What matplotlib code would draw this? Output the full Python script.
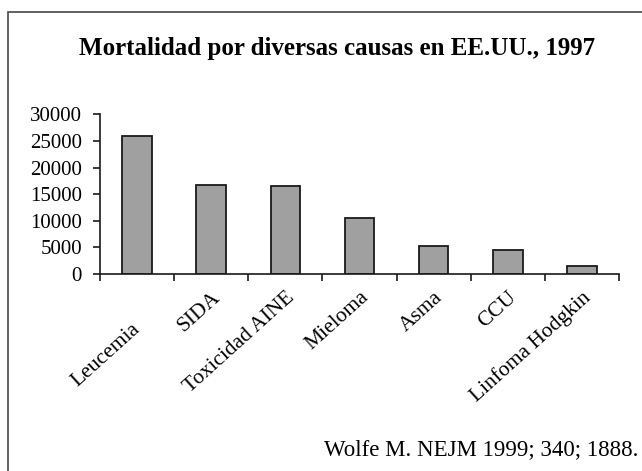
import numpy as np
import matplotlib.pyplot as plt
import matplotlib.transforms as mtransforms
from matplotlib.patches import Rectangle

# data
causas = ["Leucemia", "SIDA", "Toxicidad AINE", "Mieloma", "Asma", "CCU", "Linfoma Hodgkin"]
muertes = [26000, 16685, 16500, 10500, 5250, 4500, 1500]
yticks = [0, 5000, 10000, 15000, 20000, 25000, 30000]

plt.rcParams['font.family'] = ['Liberation Serif', 'DejaVu Serif']

fig = plt.figure(figsize=(6.42, 4.71), dpi=100)
ax = fig.add_axes([100/642, 1-274/471, 519/642, (274-114.3)/471])

x = np.arange(len(causas)) + 0.5
ax.bar(x, muertes, width=0.4, color='#a0a0a0', edgecolor='#1a1a1a', linewidth=1.3)

ax.set_xlim(0, len(causas))
ax.set_ylim(0, 30000)
ax.set_yticks(yticks)
ax.set_yticklabels([str(v) for v in yticks], fontsize=15)
ax.set_xticks(np.arange(len(causas) + 1))
ax.set_xticklabels([])
ax.set_xticks(x, minor=True)
labels = ax.set_xticklabels(causas, minor=True, rotation=42, ha='right',
                            rotation_mode='anchor', fontsize=15.5)
ax.tick_params(axis='x', which='minor', length=0, pad=10)
ax.tick_params(axis='both', which='major', length=5, width=1.2, direction='out', color='#1a1a1a')
ax.tick_params(axis='y', pad=8)
for s in ['top', 'right']:
    ax.spines[s].set_visible(False)
for s in ['left', 'bottom']:
    ax.spines[s].set_linewidth(1.2)
    ax.spines[s].set_color('#1a1a1a')

# the first label sits lower in the original
shift = mtransforms.ScaledTranslation(-6/100, -32/100, fig.dpi_scale_trans)
labels[0].set_transform(labels[0].get_transform() + shift)

fig.text(337/642, 1-48/471, "Mortalidad por diversas causas en EE.UU., 1997",
         ha='center', va='center', fontsize=18, fontweight='bold')
fig.text(638/642, 1-450/471, "Wolfe M. NEJM 1999; 340; 1888.",
         ha='right', va='center', fontsize=16.5)

# outer frame
fig.patches.append(Rectangle((8/642, -0.05), 1.0, 1-12/471+0.05, transform=fig.transFigure,
                             fill=False, edgecolor='#555555', linewidth=1.3))

fig.savefig("out.png", dpi=100)
